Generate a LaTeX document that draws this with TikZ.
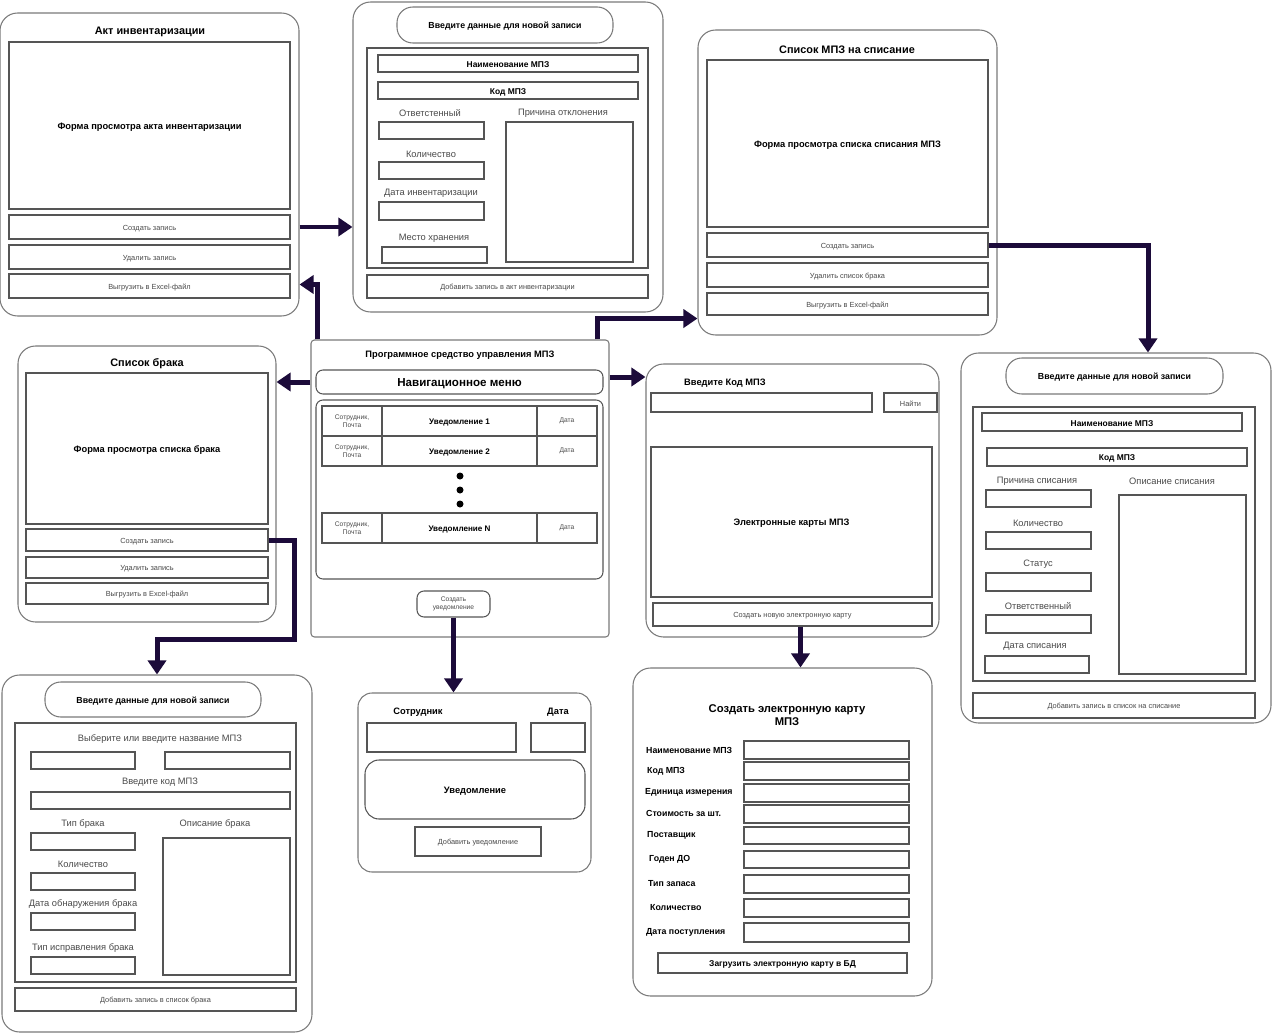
\documentclass[tikz,border=0pt]{standalone}
\usepackage{fontspec}
\setmainfont{Liberation Sans}
\usepackage{tikz}
\usetikzlibrary{
  arrows.meta,
  positioning,
  fit,
  calc
}
\definecolor{mpzLine}{HTML}{555555}
\definecolor{mpzPanel}{HTML}{7A7A7A}
\definecolor{mpzText}{HTML}{4A4A4A}
\definecolor{mpzArrow}{HTML}{1C0B3A}
\tikzset{
  panel/.style={draw=mpzPanel, rounded corners=10pt, line width=0.6pt, inner sep=0pt},
  frame/.style={draw=mpzLine, line width=0.6pt, inner sep=0pt},
  field/.style={frame},
  btn/.style={frame, label={[font=\fontsize{4.2}{5}\selectfont, text=mpzText, yshift=-0.03cm]center:#1}},
  keybox/.style={frame, label={[font=\fontsize{4.8}{5.6}\selectfont\bfseries, yshift=-0.03cm]center:#1}},
  view/.style={frame, label={[font=\fontsize{5.3}{6.3}\selectfont\bfseries, yshift=-0.03cm]center:#1}},
  pill/.style={draw=mpzPanel, rounded corners=9pt, line width=0.6pt, inner sep=0pt,
    label={[font=\fontsize{5}{6}\selectfont\bfseries, yshift=-0.03cm]center:#1}},
  cell/.style={frame, label={[font=\fontsize{3.8}{4.3}\selectfont, text=mpzText, align=center]center:#1}},
  msgcell/.style={frame, label={[font=\fontsize{4.6}{5.2}\selectfont\bfseries, yshift=-0.03cm]center:#1}},
  ttl/.style={font=\fontsize{6.2}{7.4}\selectfont\bfseries},
  hd/.style={font=\fontsize{5.3}{6.3}\selectfont\bfseries},
  cardlbl/.style={font=\fontsize{5}{6}\selectfont\bfseries, anchor=west},
  lbl/.style={font=\fontsize{5.3}{6.3}\selectfont, text=mpzText},
  dot/.style={circle, fill=black, inner sep=0pt, minimum size=0.14cm},
  link/.style={-{Triangle[length=0.28cm, width=0.36cm]}, line width=0.1cm, draw=mpzArrow}
}

\begin{document}
\begin{tikzpicture}[x=0.02cm, y=-0.02cm]
  \fill[white] (0,0) rectangle (1272,1034);
  \useasboundingbox (0,0) rectangle (1272,1034);

  % Акт инвентаризации
  \node[panel, fit={(0,13) (299,316)}] (akt) {};
  \node[ttl] (aktTitle) at (150,32) {Акт инвентаризации};
  \node[view=Форма просмотра акта инвентаризации, fit={(9,42) (290,209)}] (aktView) {};
  \node[btn=Создать запись, fit={(9,215) (290,239)}] (aktCreate) {};
  \node[btn=Удалить запись, fit={(9,245) (290,269)}] (aktDel) {};
  \node[btn=Выгрузить в Excel-файл, fit={(9,274) (290,298)}] (aktExport) {};

  % new record for the inventory act
  \node[panel, fit={(353,2) (663,312)}] (inv) {};
  \node[pill=Введите данные для новой записи, fit={(397,7) (613,43)}] (invHead) {};
  \node[frame, fit={(367,48) (648,268)}] (invBody) {};
  \node[keybox=Наименование МПЗ, fit={(378,55) (638,72)}] (invName) {};
  \node[keybox=Код МПЗ, fit={(378,82) (638,99)}] (invCode) {};
  \node[lbl] (invRespL) at (430,113) {Ответстенный};
  \node[field, fit={(379,122) (484,139)}] (invResp) {};
  \node[lbl] (invQtyL) at (431,154) {Количество};
  \node[field, fit={(379,162) (484,179)}] (invQty) {};
  \node[lbl] (invDateL) at (431,193) {Дата инвентаризации};
  \node[field, fit={(379,202) (484,220)}] (invDate) {};
  \node[lbl] (invPlaceL) at (434,238) {Место хранения};
  \node[field, fit={(382,247) (487,263)}] (invPlace) {};
  \node[lbl] (invWhyL) at (563,113) {Причина отклонения};
  \node[field, fit={(506,122) (633,262)}] (invWhy) {};
  \node[btn=Добавить запись в акт инвентаризации, fit={(367,275) (648,298)}] (invAdd) {};

  % Список МПЗ на списание
  \node[panel, fit={(698,30) (997,335)}] (spis) {};
  \node[ttl] (spisTitle) at (847,50) {Список МПЗ на списание};
  \node[view=Форма просмотра списка списания МПЗ, fit={(707,60) (988,227)}] (spisView) {};
  \node[btn=Создать запись, fit={(707,233) (988,257)}] (spisCreate) {};
  \node[btn=Удалить список брака, fit={(707,263) (988,287)}] (spisDel) {};
  \node[btn=Выгрузить в Excel-файл, fit={(707,293) (988,315)}] (spisExport) {};

  % Список брака
  \node[panel, fit={(18,346) (276,622)}] (brak) {};
  \node[ttl] (brakTitle) at (147,364) {Список брака};
  \node[view=Форма просмотра списка брака, fit={(26,373) (268,524)}] (brakView) {};
  \node[btn=Создать запись, fit={(26,529) (268,551)}] (brakCreate) {};
  \node[btn=Удалить запись, fit={(26,557) (268,578)}] (brakDel) {};
  \node[btn=Выгрузить в Excel-файл, fit={(26,583) (268,604)}] (brakExport) {};

  % main window
  \node[frame, draw=mpzPanel, rounded corners=2pt, fit={(311,340) (609,637)}] (main) {};
  \node[hd] (mainTitle) at (460,355) {Программное средство управления МПЗ};
  \node[frame, rounded corners=4pt, fit={(316,370) (603,394)},
    label={[font=\fontsize{6.6}{7.8}\selectfont\bfseries, yshift=-0.03cm]center:Навигационное меню}] (nav) {};
  \node[frame, rounded corners=4pt, fit={(316,400) (603,579)}] (list) {};
  \node[cell={Сотрудник,\\Почта}, fit={(322,406) (382,436)}] (who1) {};
  \node[msgcell=Уведомление 1, fit={(382,406) (537,436)}] (msg1) {};
  \node[cell=Дата, fit={(537,406) (597,436)}] (date1) {};
  \node[cell={Сотрудник,\\Почта}, fit={(322,436) (382,466)}] (who2) {};
  \node[msgcell=Уведомление 2, fit={(382,436) (537,466)}] (msg2) {};
  \node[cell=Дата, fit={(537,436) (597,466)}] (date2) {};
  \node[dot] (dotA) at (460,476) {};
  \node[dot] (dotB) at (460,490) {};
  \node[dot] (dotC) at (460,504) {};
  \node[cell={Сотрудник,\\Почта}, fit={(322,513) (382,543)}] (whoN) {};
  \node[msgcell=Уведомление N, fit={(382,513) (537,543)}] (msgN) {};
  \node[cell=Дата, fit={(537,513) (597,543)}] (dateN) {};
  \node[cell={Создать\\уведомление}, rounded corners=4pt, fit={(417,591) (490,617)}] (noteBtn) {};

  % search by code
  \node[panel, fit={(646,364) (939,637)}] (kod) {};
  \node[hd, anchor=west] (kodTitle) at (678,383) {Введите Код МПЗ};
  \node[field, fit={(651,393) (872,412)}] (kodInput) {};
  \node[btn=Найти, fit={(884,393) (937,412)}] (kodFind) {};
  \node[view=Электронные карты МПЗ, fit={(651,447) (932,597)}] (kodCards) {};
  \node[btn=Создать новую электронную карту, fit={(653,603) (932,626)}] (kodCreate) {};

  % new record for the write-off list
  \node[panel, fit={(961,353) (1271,723)}] (wo) {};
  \node[pill=Введите данные для новой записи, fit={(1006,358) (1223,394)}] (woHead) {};
  \node[frame, fit={(973,407) (1255,681)}] (woBody) {};
  \node[keybox=Наименование МПЗ, fit={(982,413) (1242,431)}] (woName) {};
  \node[keybox=Код МПЗ, fit={(987,448) (1247,466)}] (woCode) {};
  \node[lbl] (woWhyL) at (1037,481) {Причина списания};
  \node[field, fit={(986,490) (1091,507)}] (woWhy) {};
  \node[lbl] (woQtyL) at (1038,523) {Количество};
  \node[field, fit={(986,532) (1091,549)}] (woQty) {};
  \node[lbl] (woStateL) at (1038,564) {Статус};
  \node[field, fit={(986,573) (1091,591)}] (woState) {};
  \node[lbl] (woRespL) at (1038,606) {Ответственный};
  \node[field, fit={(986,615) (1091,633)}] (woResp) {};
  \node[lbl] (woDateL) at (1035,646) {Дата списания};
  \node[field, fit={(985,656) (1089,673)}] (woDate) {};
  \node[lbl] (woDescL) at (1172,481) {Описание списания};
  \node[field, fit={(1119,495) (1246,674)}] (woDesc) {};
  \node[btn=Добавить запись в список на списание, fit={(973,693) (1255,718)}] (woAdd) {};

  % new record for the defect list
  \node[panel, fit={(2,675) (312,1032)}] (bn) {};
  \node[pill=Введите данные для новой записи, fit={(45,682) (261,717)}] (bnHead) {};
  \node[frame, fit={(15,723) (296,982)}] (bnBody) {};
  \node[lbl] (bnPickL) at (160,739) {Выберите или введите название МПЗ};
  \node[field, fit={(31,752) (135,769)}] (bnPick) {};
  \node[field, fit={(165,752) (290,769)}] (bnType) {};
  \node[lbl] (bnCodeL) at (160,782) {Введите код МПЗ};
  \node[field, fit={(31,792) (290,809)}] (bnCode) {};
  \node[lbl] (bnKindL) at (83,824) {Тип брака};
  \node[field, fit={(31,833) (135,850)}] (bnKind) {};
  \node[lbl] (bnQtyL) at (83,864) {Количество};
  \node[field, fit={(31,873) (135,890)}] (bnQty) {};
  \node[lbl] (bnFoundL) at (83,904) {Дата обнаружения брака};
  \node[field, fit={(31,913) (135,930)}] (bnFound) {};
  \node[lbl] (bnFixL) at (83,948) {Тип исправления брака};
  \node[field, fit={(31,957) (135,974)}] (bnFix) {};
  \node[lbl] (bnDescL) at (215,824) {Описание брака};
  \node[field, fit={(163,838) (290,975)}] (bnDesc) {};
  \node[btn=Добавить запись в список брака, fit={(15,988) (296,1011)}] (bnAdd) {};

  % notification form
  \node[panel, rounded corners=8pt, fit={(358,693) (591,872)}] (note) {};
  \node[hd] (noteWhoL) at (418,712) {Сотрудник};
  \node[hd] (noteDateL) at (558,712) {Дата};
  \node[field, fit={(367,723) (516,752)}] (noteWho) {};
  \node[field, fit={(531,723) (585,752)}] (noteDate) {};
  \node[view=Уведомление, rounded corners=8pt, fit={(365,760) (585,819)}] (noteText) {};
  \node[btn=Добавить уведомление, fit={(415,827) (541,856)}] (noteAdd) {};

  % electronic card
  \node[panel, fit={(633,668) (932,996)}] (card) {};
  \node[font=\fontsize{6.4}{7.6}\selectfont\bfseries, align=center] (cardTitle) at (787,715)
    {Создать электронную карту\\МПЗ};
  \node[cardlbl] (cardNameL) at (640,750) {Наименование МПЗ};
  \node[field, fit={(744,741) (909,759)}] (cardName) {};
  \node[cardlbl] (cardCodeL) at (641,771) {Код МПЗ};
  \node[field, fit={(744,762) (909,780)}] (cardCode) {};
  \node[cardlbl] (cardUnitL) at (639,792) {Единица измерения};
  \node[field, fit={(744,784) (909,802)}] (cardUnit) {};
  \node[cardlbl] (cardCostL) at (640,813) {Стоимость за шт.};
  \node[field, fit={(744,805) (909,823)}] (cardCost) {};
  \node[cardlbl] (cardSupL) at (641,835) {Поставщик};
  \node[field, fit={(744,827) (909,844)}] (cardSup) {};
  \node[cardlbl] (cardExpL) at (643,859) {Годен ДО};
  \node[field, fit={(744,851) (909,868)}] (cardExp) {};
  \node[cardlbl] (cardKindL) at (642,884) {Тип запаса};
  \node[field, fit={(744,875) (909,893)}] (cardKind) {};
  \node[cardlbl] (cardQtyL) at (644,908) {Количество};
  \node[field, fit={(744,899) (909,917)}] (cardQty) {};
  \node[cardlbl] (cardInL) at (640,932) {Дата поступления};
  \node[field, fit={(744,923) (909,942)}] (cardIn) {};
  \node[keybox=Загрузить электронную карту в БД, fit={(658,953) (907,973)}] (cardLoad) {};

  % transitions
  \draw[link] (aktCreate.east -| akt.east) -- (aktCreate.east -| inv.west);
  \draw[link] ([xshift=0.14cm]main.north west) |- ([yshift=0.03cm]aktExport.east -| akt.east);
  \draw[link] ([xshift=-0.24cm]main.north east) |- ([yshift=0.34cm]spis.south west);
  \draw[link] ([yshift=0.1cm]nav.east -| main.east) -- ([yshift=0.1cm]nav.east -| kod.west);
  \draw[link] (nav.west -| main.west) -- (nav.west -| brak.east);
  \draw[link] (spisCreate.east) -| ([xshift=0.64cm]wo.north);
  \draw[link] (brakCreate.east) -- ++(26,0) |- ([yshift=0.7cm]bn.north) -- (bn.north);
  \draw[link] (noteBtn.south) -- (noteBtn.south |- note.north);
  \draw[link] ([xshift=0.16cm]kodCreate.south) -- ([xshift=0.16cm]kodCreate.south |- card.north);
\end{tikzpicture}
\end{document}
